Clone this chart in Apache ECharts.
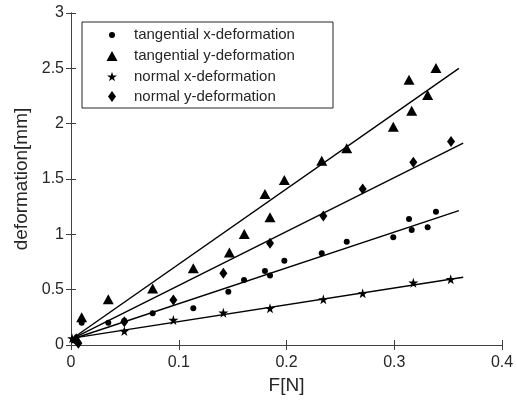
<!DOCTYPE html>
<html><head><meta charset="utf-8">
<script src="https://cdn.jsdelivr.net/npm/echarts@6/dist/echarts.min.js"></script>
<style>html,body{margin:0;padding:0;background:#fff}#c{width:517px;height:401px}</style>
</head><body><div id="c"></div>
<script>
// Data: [F (N), deformation (mm)]
var tangentialX = [[0.005,0.04],[0.0099,0.2],[0.0346,0.2],[0.0495,0.22],[0.0758,0.287],[0.1135,0.332],[0.146,0.482],[0.1606,0.588],[0.180,0.669],[0.1847,0.627],[0.198,0.762],[0.2327,0.829],[0.2559,0.934],[0.2991,0.974],[0.3137,1.139],[0.3162,1.04],[0.331,1.064],[0.3387,1.205]];
var tangentialY = [[0.005,0.06],[0.0099,0.25],[0.0346,0.413],[0.0758,0.51],[0.1135,0.693],[0.147,0.835],[0.1608,1.003],[0.1847,1.155],[0.180,1.365],[0.198,1.49],[0.2327,1.666],[0.2559,1.778],[0.2991,1.973],[0.3162,2.116],[0.3137,2.396],[0.331,2.26],[0.3387,2.502]];
var normalX = [[0.001,0.06],[0.0495,0.127],[0.095,0.226],[0.1414,0.292],[0.1847,0.332],[0.2342,0.413],[0.2707,0.467],[0.3177,0.563],[0.3524,0.594]];
var normalY = [[0.0068,0.015],[0.004,0.05],[0.0495,0.211],[0.095,0.407],[0.1414,0.648],[0.1847,0.919],[0.2342,1.166],[0.2707,1.41],[0.3177,1.652],[0.3527,1.838]];
// fitted lines (end points)
var fitTangentialY = [[0,0.05],[0.36,2.5]];
var fitNormalY = [[0,0.05],[0.364,1.824]];
var fitTangentialX = [[0,0.05],[0.36,1.214]];
var fitNormalX = [[0,0.06],[0.364,0.612]];
var seriesNames = ['tangential x-deformation','tangential y-deformation','normal x-deformation','normal y-deformation'];
var xTicks = {min:0, max:0.4, interval:0.1};
var yTicks = {min:0, max:3, interval:0.5};

var starPath = 'path://M50,0 L61,35 L98,35 L68,57 L79,91 L50,70 L21,91 L32,57 L2,35 L39,35 Z';
var symbols = ['circle','triangle',starPath,'diamond'];
var sizes = [6,[11,10],10,[8,11]];
var dataSets = [tangentialX, tangentialY, normalX, normalY];
var fits = [fitTangentialX, fitTangentialY, fitNormalX, fitNormalY];

var txt = '#262626', ax = '#404040', FONT = 'Liberation Sans, Arial, sans-serif';
var chart = echarts.init(document.getElementById('c'), null, {renderer:'canvas'});

var series = [];
fits.forEach(function(f){
  series.push({type:'line', data:f, symbol:'none', silent:true, lineStyle:{color:'#000', width:1.4}, z:2, xAxisIndex:0, yAxisIndex:0});
});
dataSets.forEach(function(d,i){
  series.push({type:'scatter', name:seriesNames[i], data:d, symbol:symbols[i], symbolSize:sizes[i], itemStyle:{color:'#000', opacity:1}, z:3, xAxisIndex:0, yAxisIndex:0});
});

var rowY = [35, 56, 76.5, 96.5];
var legendIconSizes = [[6,6],[11,10],[10,10],[8,11]];
var legends = seriesNames.map(function(n,i){
  var w = legendIconSizes[i][0], h = legendIconSizes[i][1];
  return {
    data:[{name:n, icon:symbols[i]}], left:112 - w/2, top:rowY[i] - 8, padding:0,
    itemWidth:w, itemHeight:h, selectedMode:false,
    textStyle:{fontFamily:FONT, fontSize:15, color:txt, lineHeight:16, padding:[0,0,0,134-(112+w/2+5)]}
  };
});

var axisCommon = {
  axisLine:{show:true, lineStyle:{color:ax, width:1}},
  axisTick:{show:true, inside:true, length:5, lineStyle:{color:ax}},
  splitLine:{show:false}
};

chart.setOption({
  animation:false,
  grid:{left:71, right:15, top:13, bottom:56, containLabel:false},
  legend: legends,
  graphic:[{type:'rect', shape:{x:82, y:22, width:251, height:86}, style:{fill:'#fff', stroke:'#262626', lineWidth:1}, z:4}],
  xAxis:[
    Object.assign({type:'value', position:'bottom', min:xTicks.min, max:xTicks.max, interval:xTicks.interval,
      name:'F[N]', nameLocation:'middle', nameGap:30, nameTextStyle:{fontFamily:FONT, fontSize:19, color:txt},
      axisLabel:{fontFamily:FONT, fontSize:16, color:txt, margin:10}}, axisCommon),
    Object.assign({type:'value', position:'top', min:xTicks.min, max:xTicks.max, interval:xTicks.interval, axisLabel:{show:false}}, axisCommon)
  ],
  yAxis:[
    Object.assign({type:'value', position:'left', min:yTicks.min, max:yTicks.max, interval:yTicks.interval,
      name:'deformation[mm]', nameLocation:'middle', nameGap:38, nameTextStyle:{fontFamily:FONT, fontSize:19, color:txt},
      axisLabel:{fontFamily:FONT, fontSize:16, color:txt, margin:7}}, axisCommon),
    Object.assign({type:'value', position:'right', min:yTicks.min, max:yTicks.max, interval:yTicks.interval, axisLabel:{show:false}}, axisCommon)
  ],
  series: series
});
</script></body></html>
